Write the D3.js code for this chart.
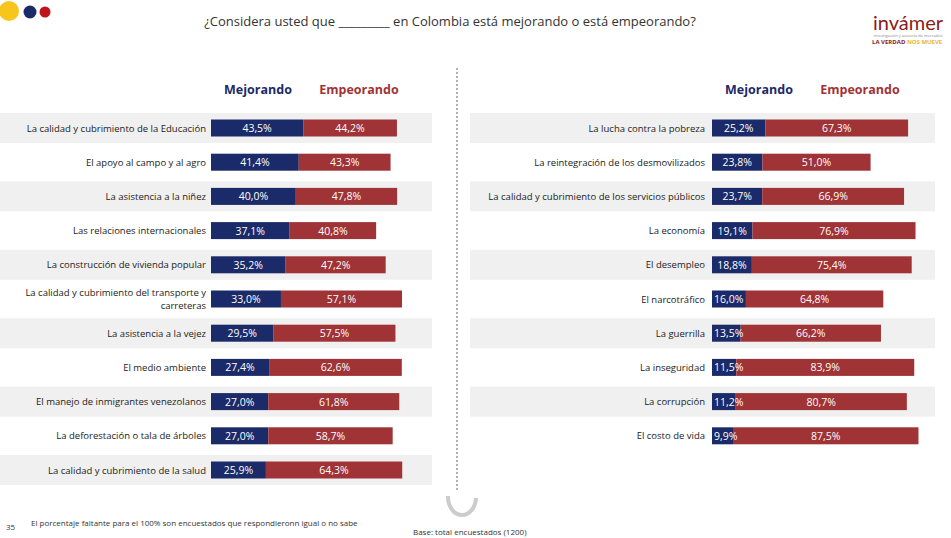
<!DOCTYPE html><html><head><meta charset="utf-8"><script src="https://cdn.jsdelivr.net/npm/d3@7"></script>
<style>body{margin:0;background:#fff;font-family:"Open Sans",sans-serif}</style></head><body><svg id="c" width="951" height="538"></svg>
<script>
const leftCats=["La calidad y cubrimiento de la Educación","El apoyo al campo y al agro","La asistencia a la niñez","Las relaciones internacionales","La construcción de vivienda popular","La calidad y cubrimiento del transporte y|carreteras","La asistencia a la vejez","El medio ambiente","El manejo de inmigrantes venezolanos","La deforestación o tala de árboles","La calidad y cubrimiento de la salud"];
const leftMej=[43.5,41.4,40.0,37.1,35.2,33.0,29.5,27.4,27.0,27.0,25.9];
const leftEmp=[44.2,43.3,47.8,40.8,47.2,57.1,57.5,62.6,61.8,58.7,64.3];
const rightCats=["La lucha contra la pobreza","La reintegración de los desmovilizados","La calidad y cubrimiento de los servicios públicos","La economía","El desempleo","El narcotráfico","La guerrilla","La inseguridad","La corrupción","El costo de vida"];
const rightMej=[25.2,23.8,23.7,19.1,18.8,16.0,13.5,11.5,11.2,9.9];
const rightEmp=[67.3,51.0,66.9,76.9,75.4,64.8,66.2,83.9,80.7,87.5];
const svg=d3.select("#c");
const navy="#1b2a68",red="#9f3336";
const fmt=v=>v.toFixed(1).replace(".",",")+"%";
svg.append("circle").attr("cx",9).attr("cy",11).attr("r",10).attr("fill","#f7c51c");
svg.append("circle").attr("cx",30).attr("cy",12).attr("r",6.5).attr("fill","#1b2a68");
svg.append("circle").attr("cx",45).attr("cy",12).attr("r",5.5).attr("fill","#c0141c");
svg.append("text").attr("x",450).attr("y",26).attr("text-anchor","middle").attr("font-size",13).attr("fill","#333").text("¿Considera usted que _________ en Colombia está mejorando o está empeorando?");
svg.append("text").attr("x",908).attr("y",30).attr("text-anchor","middle").attr("font-size",20).attr("fill","#8b1a1a").attr("font-family","Lato").text("invámer");
svg.append("text").attr("x",908).attr("y",37).attr("text-anchor","middle").attr("font-size",4).attr("fill","#888").text("investigación y asesoría de mercados");
svg.append("text").attr("x",872).attr("y",44).attr("font-size",6).attr("font-weight","bold").attr("fill","#8b1a1a").text("LA VERDAD ").append("tspan").attr("fill","#e8b830").text("NOS MUEVE");
svg.append("line").attr("x1",457).attr("x2",457).attr("y1",68).attr("y2",492).attr("stroke","#666").attr("stroke-dasharray","2,2");
const y=d3.scaleLinear().domain([0,1]).range([128,162.2]);
function panel(cats,mej,emp,x0,bx0,bx1,lx){
  const x=d3.scaleLinear().domain([0,100]).range([x0,x0+212]);
  const g=svg.append("g"), gl=svg.append("g");
  g.append("text").attr("x",x0+47).attr("y",94).attr("text-anchor","middle").attr("font-size",12.5).attr("font-weight","bold").attr("fill",navy).text("Mejorando");
  g.append("text").attr("x",x0+148).attr("y",94).attr("text-anchor","middle").attr("font-size",12.5).attr("font-weight","bold").attr("fill",red).text("Empeorando");
  cats.forEach((c,i)=>{
    const cy=y(i);
    if(i%2==0) g.append("rect").attr("x",bx0).attr("width",bx1-bx0).attr("y",cy-15).attr("height",30).attr("fill","#f0f0f0");
    const lines=c.split("|");
    lines.forEach((l,j)=>g.append("text").attr("x",lx).attr("y",cy+3.5+(j-(lines.length-1)/2)*13).attr("text-anchor","end").attr("font-size",9.5).attr("fill","#222").text(l));
    g.append("rect").attr("x",x(0)).attr("width",x(mej[i])-x(0)).attr("y",cy-8.5).attr("height",17).attr("fill",navy);
    g.append("rect").attr("x",x(mej[i])).attr("width",x(mej[i]+emp[i])-x(mej[i])).attr("y",cy-8.5).attr("height",17).attr("fill",red);
    const w=x(mej[i])-x(0), narrow=w<34;
    gl.append("text").attr("x",narrow?x(0)+2:(x(0)+x(mej[i]))/2).attr("y",cy+4).attr("text-anchor",narrow?"start":"middle").attr("font-size",10.5).attr("fill","#fff").text(fmt(mej[i]));
    gl.append("text").attr("x",(x(mej[i])+x(mej[i]+emp[i]))/2).attr("y",cy+4).attr("text-anchor","middle").attr("font-size",10.5).attr("fill","#fff").text(fmt(emp[i]));
  });
}
panel(leftCats,leftMej,leftEmp,211,0,432,206);
panel(rightCats,rightMej,rightEmp,712,470,935,705);
svg.append("text").attr("x",6).attr("y",530).attr("font-size",8).attr("fill","#333").text("35");
svg.append("text").attr("x",31).attr("y",526).attr("font-size",8).attr("fill","#333").text("El porcentaje faltante para el 100% son encuestados que respondieronn igual o no sabe");
svg.append("text").attr("x",413).attr("y",535).attr("font-size",8).attr("fill","#333").text("Base: total encuestados (1200)");
svg.append("path").attr("d","M448,496 A14,18 0 0 0 476,498").attr("fill","none").attr("stroke","#ccc").attr("stroke-width",4);
</script></body></html>
